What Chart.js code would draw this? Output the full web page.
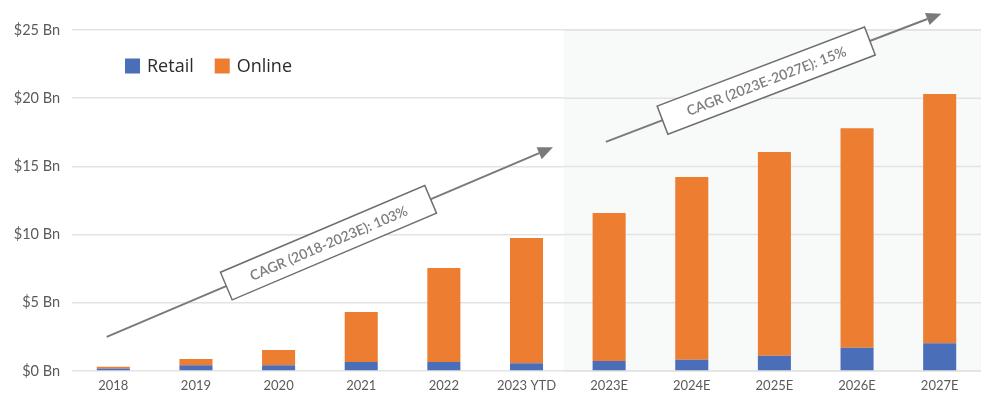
<!DOCTYPE html>
<html>
<head>
<meta charset="utf-8">
<script src="https://cdn.jsdelivr.net/npm/chart.js@4/dist/chart.umd.min.js"></script>
<style>
  html, body { margin: 0; padding: 0; background: #ffffff; }
  #wrap { width: 988px; height: 396px; position: relative; }
</style>
</head>
<body>
<div id="wrap"><canvas id="c" width="988" height="396"></canvas></div>
<script>
// ---- data ----
const categories = ['2018', '2019', '2020', '2021', '2022', '2023 YTD', '2023E', '2024E', '2025E', '2026E', '2027E'];
const retail = [0.18, 0.42, 0.43, 0.66, 0.66, 0.56, 0.73, 0.83, 1.12, 1.71, 2.03];
const online = [0.14, 0.46, 1.11, 3.67, 6.89, 9.19, 10.85, 13.39, 14.94, 16.09, 18.27];
const yTicks = [0, 5, 10, 15, 20, 25];
const seriesNames = ['Retail', 'Online'];
const cagrLabels = ['CAGR (2018-2023E): 103%', 'CAGR (2023E-2027E): 15%'];
// arrows in data units: [xIndexStart, yStart, xIndexEnd, yEnd]
const cagrArrows = [[-0.08, 2.5, 5.32, 16.4], [5.96, 16.8, 10.02, 26.2]];
const cagrBoxPos = [0.497, 0.478];
const forecastStartIndex = 5.45;

const COLORS = { retail: '#4a6fb8', online: '#ed7d31' };
const FONT = 'Lato, "Open Sans", sans-serif';

const decorPlugin = {
  id: 'decor',
  beforeDatasetsDraw(chart) {
    const { ctx, chartArea, scales } = chart;
    const x0 = scales.x.getPixelForValue(forecastStartIndex);
    ctx.save();
    ctx.fillStyle = '#f8f9f9';
    ctx.fillRect(x0, chartArea.top + 1, chartArea.right - x0, chartArea.bottom - chartArea.top - 2);
    ctx.strokeStyle = '#e3e3e3';
    ctx.lineWidth = 1.5;
    yTicks.forEach(v => {
      const y = scales.y.getPixelForValue(v);
      ctx.beginPath();
      ctx.moveTo(x0, y);
      ctx.lineTo(chartArea.right, y);
      ctx.stroke();
    });
    ctx.restore();
  },
  afterDatasetsDraw(chart) {
    const { ctx, scales } = chart;
    ctx.save();
    cagrArrows.forEach((a, i) => {
      const x1 = scales.x.getPixelForValue(a[0]);
      const y1 = scales.y.getPixelForValue(a[1]);
      const x2 = scales.x.getPixelForValue(a[2]);
      const y2 = scales.y.getPixelForValue(a[3]);
      const ang = Math.atan2(y2 - y1, x2 - x1);
      const headLen = 15, headW = 6.5;
      const bx = x2 - headLen * Math.cos(ang), by = y2 - headLen * Math.sin(ang);
      ctx.strokeStyle = '#7a7a7a';
      ctx.fillStyle = '#7a7a7a';
      ctx.lineWidth = 2;
      ctx.beginPath();
      ctx.moveTo(x1, y1);
      ctx.lineTo(bx, by);
      ctx.stroke();
      ctx.beginPath();
      ctx.moveTo(x2, y2);
      ctx.lineTo(bx + headW * Math.sin(ang), by - headW * Math.cos(ang));
      ctx.lineTo(bx - headW * Math.sin(ang), by + headW * Math.cos(ang));
      ctx.closePath();
      ctx.fill();
      const t = cagrBoxPos[i];
      const cx = x1 + (x2 - x1) * t, cy = y1 + (y2 - y1) * t;
      ctx.save();
      ctx.translate(cx, cy);
      ctx.rotate(ang);
      const w = 222, h = 30;
      ctx.fillStyle = '#ffffff';
      ctx.fillRect(-w / 2, -h / 2, w, h);
      ctx.strokeStyle = '#6e6e6e';
      ctx.lineWidth = 1.5;
      ctx.strokeRect(-w / 2, -h / 2, w, h);
      ctx.fillStyle = '#7d7d7d';
      ctx.font = '600 14px ' + FONT;
      ctx.textAlign = 'center';
      ctx.textBaseline = 'middle';
      ctx.fillText(cagrLabels[i], 0, 1);
      ctx.restore();
    });
    // legend
    const ds = chart.data.datasets;
    ctx.font = '18px "Open Sans", sans-serif';
    ctx.textBaseline = 'middle';
    ctx.textAlign = 'left';
    let lx = 125;
    const ly = 66;
    ds.forEach(d => {
      ctx.fillStyle = d.backgroundColor;
      ctx.fillRect(lx, ly - 7.5, 15, 15);
      ctx.fillStyle = '#2b2b2b';
      ctx.fillText(d.label, lx + 22, ly + 1);
      lx += 22 + ctx.measureText(d.label).width + 21;
    });
    ctx.restore();
  }
};

new Chart(document.getElementById('c'), {
  type: 'bar',
  data: {
    labels: categories,
    datasets: [
      { label: seriesNames[0], data: retail, backgroundColor: COLORS.retail, borderWidth: 0 },
      { label: seriesNames[1], data: online, backgroundColor: COLORS.online, borderWidth: 0 }
    ]
  },
  options: {
    responsive: false,
    animation: false,
    devicePixelRatio: 1,
    layout: { padding: { top: 30, right: 7, left: 0, bottom: 0 } },
    datasets: { bar: { categoryPercentage: 1, barPercentage: 0.4 } },
    plugins: { legend: { display: false }, tooltip: { enabled: false } },
    scales: {
      x: {
        stacked: true,
        grid: { display: false, drawTicks: false },
        border: { display: false },
        ticks: { color: '#5a5a5a', font: { family: FONT, size: 13 }, padding: 7, maxRotation: 0, autoSkip: false },
        afterFit(s) { s.height = 25; }
      },
      y: {
        stacked: true,
        min: 0, max: 25,
        afterBuildTicks(s) { s.ticks = yTicks.map(v => ({ value: v })); },
        grid: { color: '#e3e3e3', lineWidth: 1.5, drawTicks: false },
        border: { display: false },
        ticks: {
          color: '#5a5a5a', font: { family: FONT, size: 14.5 }, padding: 12,
          callback: v => '$' + v + ' Bn'
        },
        afterFit(s) { s.width = 72; }
      }
    }
  },
  plugins: [decorPlugin]
});
</script>
</body>
</html>
